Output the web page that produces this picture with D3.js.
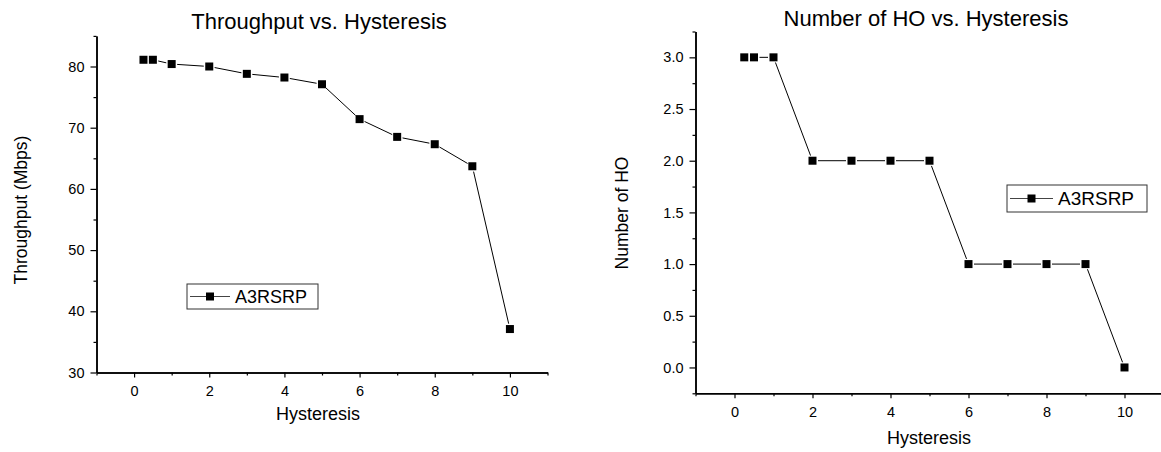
<!DOCTYPE html>
<html>
<head>
<meta charset="utf-8">
<script src="https://cdn.jsdelivr.net/npm/d3@7"></script>
<style>
   body { margin: 0; background: #fff; }
   text { font-family: 'Liberation Sans', Arial, sans-serif; fill: #000; }
</style>
</head>
<body>
<div class="chart"></div>
<script>
// ======================================
// data
// ======================================
var hysteresis = [0.25, 0.5, 1, 2, 3, 4, 5, 6, 7, 8, 9, 10];
var throughput = [81.1, 81.1, 80.4, 80.0, 78.8, 78.2, 77.1, 71.4, 68.5, 67.3, 63.7, 37.1];
var numHO      = [3, 3, 3, 2, 2, 2, 2, 1, 1, 1, 1, 0];
var seriesName = 'A3RSRP';

var xTicks      = [0, 2, 4, 6, 8, 10];
var xMinor      = [-1, 1, 3, 5, 7, 9, 11];
var tputTicks   = [30, 40, 50, 60, 70, 80];
var tputMinor   = [35, 45, 55, 65, 75, 85];
var hoTicks     = [0, 0.5, 1, 1.5, 2, 2.5, 3];
var hoMinor     = [-0.25, 0.25, 0.75, 1.25, 1.75, 2.25, 2.75, 3.25];

// ======================================
// svg
// ======================================
var W = 1161, H = 452;
var svg = d3.select('.chart')
   .append('svg')
   .attr('width', W)
   .attr('height', H)
   ;

svg.append('rect').attr('width', W).attr('height', H).attr('fill', '#fff');

// ======================================
// one panel = axes + line with gaps + square markers + legend
// ======================================
function drawPanel(p){
   var g = svg.append('g');
   var x = d3.scaleLinear().domain(p.xDomain).range([p.left, p.right]);
   var y = d3.scaleLinear().domain(p.yDomain).range([p.bottom, p.top]);

   // minor ticks first, the major axis draws over them
   g.append('g')
      .attr('transform', 'translate(0,' + p.bottom + ')')
      .call(d3.axisBottom(x).tickValues(xMinor).tickSize(3).tickSizeOuter(0).tickFormat(''))
      ;
   g.append('g')
      .attr('transform', 'translate(' + p.left + ',0)')
      .call(d3.axisLeft(y).tickValues(p.yMinor).tickSize(3).tickSizeOuter(0).tickFormat(''))
      ;
   g.append('g')
      .attr('transform', 'translate(0,' + p.bottom + ')')
      .call(d3.axisBottom(x).tickValues(xTicks).tickSize(5).tickSizeOuter(0).tickPadding(8))
      ;
   g.append('g')
      .attr('transform', 'translate(' + p.left + ',0)')
      .call(d3.axisLeft(y).tickValues(p.yTicks).tickSize(6).tickSizeOuter(0).tickPadding(6).tickFormat(p.yFormat))
      ;
   g.selectAll('.domain').attr('stroke', '#000').attr('stroke-width', 1.5);
   g.selectAll('.tick line').attr('stroke', '#000').attr('stroke-width', 1.2);
   g.selectAll('.tick text')
      .attr('font-family', "'Liberation Sans', Arial, sans-serif")
      .attr('font-size', '14.5px')
      .attr('fill', '#000')
      ;

   // line segments stop short of each marker
   var pts = hysteresis.map(function(h, i){ return [x(h), y(p.values[i])]; });
   var gap = 5.5;
   for(var i = 0; i < pts.length - 1; i++){
      var dx = pts[i + 1][0] - pts[i][0];
      var dy = pts[i + 1][1] - pts[i][1];
      var len = Math.sqrt(dx * dx + dy * dy);
      if(len <= 2 * gap + 1){ continue; }
      var ux = dx / len, uy = dy / len;
      g.append('line')
         .attr('x1', pts[i][0] + ux * gap)
         .attr('y1', pts[i][1] + uy * gap)
         .attr('x2', pts[i + 1][0] - ux * gap)
         .attr('y2', pts[i + 1][1] - uy * gap)
         .attr('stroke', '#000')
         .attr('stroke-width', 1)
         ;
   }

   g.selectAll('rect.pt')
      .data(pts)
      .enter()
      .append('rect')
         .attr('class', 'pt')
         .attr('x', function(d){ return d[0] - 4; })
         .attr('y', function(d){ return d[1] - 4; })
         .attr('width', 8)
         .attr('height', 8)
         .attr('fill', '#000')
      ;

   // titles
   g.append('text')
      .attr('x', p.titleX)
      .attr('y', p.titleY)
      .attr('text-anchor', 'middle')
      .attr('font-size', '22px')
      .text(p.title)
      ;
   g.append('text')
      .attr('x', p.xLabelX)
      .attr('y', p.xLabelY)
      .attr('text-anchor', 'middle')
      .attr('font-size', '18px')
      .text('Hysteresis')
      ;
   g.append('text')
      .attr('transform', 'translate(' + p.yLabelX + ',' + p.yLabelY + ') rotate(-90)')
      .attr('text-anchor', 'middle')
      .attr('font-size', '17.5px')
      .text(p.yLabel)
      ;

   // legend
   var lg = g.append('g').attr('transform', 'translate(' + p.legX + ',' + p.legY + ')');
   lg.append('rect')
      .attr('width', p.legW)
      .attr('height', p.legH)
      .attr('fill', '#fff')
      .attr('stroke', '#333')
      .attr('stroke-width', 1)
      ;
   lg.append('line')
      .attr('x1', 3).attr('x2', p.legLine)
      .attr('y1', p.legH / 2).attr('y2', p.legH / 2)
      .attr('stroke', '#444')
      .attr('stroke-width', 1)
      ;
   lg.append('rect')
      .attr('x', p.legLine / 2 + 1.5 - 4).attr('y', p.legH / 2 - 4)
      .attr('width', 8).attr('height', 8)
      .attr('fill', '#000')
      ;
   lg.append('text')
      .attr('x', p.legLine + 5)
      .attr('y', p.legH / 2 + 6.5)
      .attr('font-size', p.legFont)
      .text(seriesName)
      ;
}

drawPanel({
   values: throughput,
   xDomain: [-1, 11], yDomain: [30, 85],
   left: 96.5, right: 547.5, top: 35.9, bottom: 372.5,
   yTicks: tputTicks, yMinor: tputMinor, yFormat: d3.format('d'),
   title: 'Throughput vs. Hysteresis', titleX: 319, titleY: 29,
   xLabelX: 318, xLabelY: 420,
   yLabel: 'Throughput (Mbps)', yLabelX: 27, yLabelY: 210,
   legX: 187, legY: 284, legW: 131, legH: 25, legLine: 43, legFont: '18px'
});

drawPanel({
   values: numHO,
   xDomain: [-1, 11], yDomain: [-0.25, 3.25],
   left: 695.5, right: 1163.5, top: 31.5, bottom: 393.3,
   yTicks: hoTicks, yMinor: hoMinor, yFormat: d3.format('.1f'),
   title: 'Number of HO vs. Hysteresis', titleX: 926, titleY: 26,
   xLabelX: 929, xLabelY: 444,
   yLabel: 'Number of HO', yLabelX: 628, yLabelY: 213,
   legX: 1007, legY: 185, legW: 140, legH: 27, legLine: 46, legFont: '19px'
});
</script>
</body>
</html>
